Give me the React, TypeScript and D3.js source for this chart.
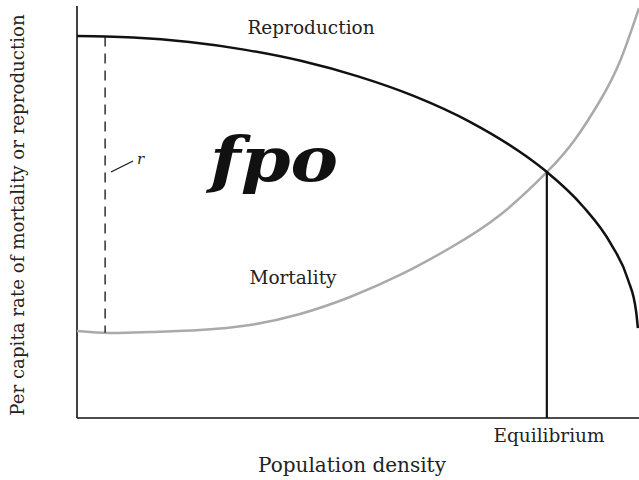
import React from "react";
import * as d3 from "d3";

// Population density (0-100) vs per capita rate (0-100)
const reproDensity = [0, 5, 10, 20, 30, 40, 50, 60, 70, 80, 83.6, 90, 95, 98, 99.5, 99.8];
const reproRate = [92.7, 92.6, 92.35, 91.24, 89.35, 86.63, 82.91, 78.11, 71.82, 63.45, 59.71, 51.41, 42.26, 33.74, 25.73, 21.8];

const mortDensity = [0, 5.87, 12.99, 21.89, 30.78, 39.68, 48.58, 57.47, 66.37, 75.27, 83.63, 88.61, 93.06, 96.62, 100];
const mortRate = [21.12, 20.63, 20.87, 21.36, 22.57, 25.24, 29.37, 34.71, 41.26, 49.27, 59.71, 67.6, 77.0, 86.6, 99.5];

const equilibrium = { density: 83.6, rate: 59.71 };
const rMarker = { density: 5.0, top: 92.6, bottom: 20.7 };

const labels = {
  x: "Population density",
  y: "Per capita rate of mortality or reproduction",
  repro: "Reproduction",
  mort: "Mortality",
  eq: "Equilibrium",
  r: "r",
  fpo: "fpo",
};

const W = 639;
const H = 480;

export default function App() {
  const x = d3.scaleLinear().domain([0, 100]).range([77, 639]);
  const y = d3.scaleLinear().domain([0, 100]).range([418, 6]);

  const reproLine = d3
    .line<[number, number]>()
    .x((d) => x(d[0]))
    .y((d) => y(d[1]))
    .curve(d3.curveMonotoneX);

  const mortLine = d3
    .line<[number, number]>()
    .x((d) => x(d[0]))
    .y((d) => y(d[1]))
    .curve(d3.curveNatural);

  const repro = reproDensity.map((d, i) => [d, reproRate[i]] as [number, number]);
  const mort = mortDensity.map((d, i) => [d, mortRate[i]] as [number, number]);

  const font = "'DejaVu Serif', serif";
  const textColor = "#222";

  return (
    <svg
      width={W}
      height={H}
      style={{ position: "absolute", left: 0, top: 0, background: "#fff" }}
    >
      <defs>
        <clipPath id="plot">
          <rect x={x(0)} y={0} width={x(100) - x(0)} height={y(0)} />
        </clipPath>
      </defs>

      {/* axes */}
      <line x1={x(0)} y1={y(0)} x2={x(0)} y2={y(100)} stroke="#111" strokeWidth={1.6} />
      <line x1={x(0)} y1={y(0)} x2={x(100)} y2={y(0)} stroke="#111" strokeWidth={1.6} />

      {/* mortality curve */}
      <path d={mortLine(mort) || ""} fill="none" stroke="#aaaaaa" strokeWidth={2.5} clipPath="url(#plot)" />

      {/* reproduction curve */}
      <path d={reproLine(repro) || ""} fill="none" stroke="#111" strokeWidth={2.5} />

      {/* r dashed line */}
      <line
        x1={x(rMarker.density)}
        x2={x(rMarker.density)}
        y1={y(rMarker.top)}
        y2={y(rMarker.bottom)}
        stroke="#111"
        strokeWidth={1.3}
        strokeDasharray="10,7"
      />
      <line x1={111} y1={172} x2={133} y2={161} stroke="#111" strokeWidth={1.2} />
      <text x={137} y={164} fontFamily={font} fontStyle="italic" fontSize={15} fill={textColor}>
        {labels.r}
      </text>

      {/* equilibrium */}
      <line
        x1={x(equilibrium.density)}
        x2={x(equilibrium.density)}
        y1={y(equilibrium.rate)}
        y2={y(0)}
        stroke="#111"
        strokeWidth={2.2}
      />

      {/* labels */}
      <text x={311} y={34} textAnchor="middle" fontFamily={font} fontSize={18.5} fill={textColor}>
        {labels.repro}
      </text>
      <text x={293} y={284} textAnchor="middle" fontFamily={font} fontSize={18.5} fill={textColor}>
        {labels.mort}
      </text>
      <text x={549} y={442} textAnchor="middle" fontFamily={font} fontSize={18.5} fill={textColor}>
        {labels.eq}
      </text>
      <text x={352} y={472} textAnchor="middle" fontFamily={font} fontSize={20} fill={textColor}>
        {labels.x}
      </text>
      <text
        transform="translate(24,215) rotate(-90)"
        textAnchor="middle"
        fontFamily={font}
        fontSize={18.2}
        fill={textColor}
      >
        {labels.y}
      </text>

      {/* fpo placeholder */}
      <text
        x={210}
        y={181}
        fontFamily={font}
        fontStyle="italic"
        fontWeight="bold"
        fontSize={62}
        fill="#111"
        textLength={128}
        lengthAdjust="spacingAndGlyphs"
      >
        {labels.fpo}
      </text>
    </svg>
  );
}
